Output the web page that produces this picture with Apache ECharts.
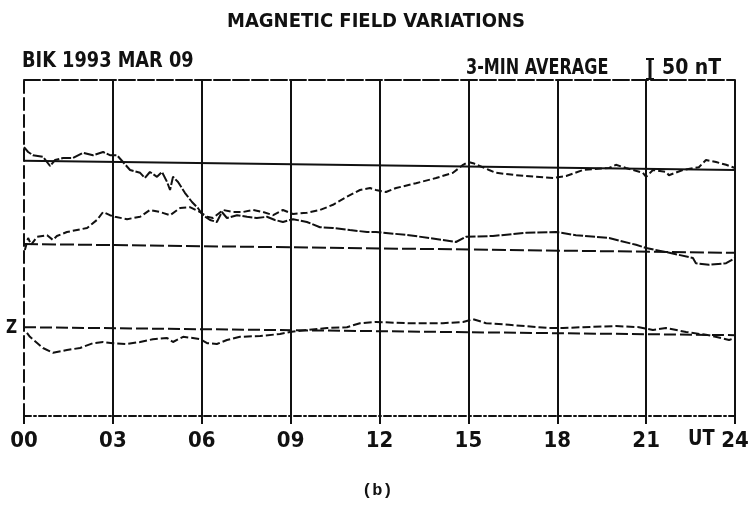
<!DOCTYPE html>
<html>
<head>
<meta charset="utf-8">
<script src="https://cdn.jsdelivr.net/npm/echarts@6/dist/echarts.min.js"></script>
<style>
  html, body { margin: 0; padding: 0; background: #fff; }
  #main { width: 752px; height: 515px; }
</style>
</head>
<body>
<div id="main"></div>
<script>
// hours (UT) and field values (nT, arbitrary offset)
var hHours = [0, 0.14, 0.3, 0.64, 0.88, 1.05, 1.32, 1.65, 1.99, 2.33, 2.67, 2.9, 3.14, 3.58, 3.92, 4.08, 4.25, 4.49, 4.66, 4.83, 4.93, 5.03, 5.2, 5.43, 5.67, 5.87, 6.04, 6.28, 6.51, 6.68, 6.85, 7.19, 7.53, 7.86, 8.2, 8.47, 8.74, 9.08, 9.55, 9.99, 10.43, 11.0, 11.58, 11.88, 13.0, 14.14, 14.58, 14.92, 15.83, 16.95, 17.96, 18.63, 19.75, 20.66, 21.0, 21.67, 22.58, 22.68, 23.12, 23.7, 24];
var hValues = [672, 660, 652, 648, 625, 640, 645, 645, 658, 652, 660, 652, 652, 615, 608, 595, 610, 598, 610, 585, 565, 598, 585, 558, 535, 520, 502, 490, 485, 510, 495, 502, 498, 495, 498, 490, 485, 492, 485, 472, 470, 465, 460, 460, 452, 440, 435, 448, 450, 458, 460, 452, 445, 428, 420, 410, 395, 382, 378, 382, 395];

var dHours = [0.03, 0.14, 0.24, 0.44, 0.78, 0.98, 1.11, 1.45, 1.79, 2.13, 2.46, 2.67, 2.9, 3.07, 3.48, 3.92, 4.25, 4.59, 4.93, 5.27, 5.6, 5.94, 6.18, 6.38, 6.72, 7.05, 7.39, 7.73, 8.07, 8.41, 8.74, 9.08, 9.55, 9.99, 10.43, 10.9, 11.34, 11.68, 11.88, 12.22, 12.56, 13.23, 13.91, 14.48, 14.82, 14.99, 15.16, 15.7, 15.93, 16.61, 17.28, 17.86, 18.3, 18.87, 19.75, 19.98, 20.32, 20.89, 21.0, 21.23, 21.67, 21.77, 22.24, 22.78, 23.02, 23.36, 23.7, 24];
var dValues = [415, 445, 428, 448, 452, 440, 450, 460, 465, 470, 490, 510, 502, 498, 492, 498, 515, 510, 502, 520, 522, 510, 498, 495, 515, 510, 510, 515, 510, 502, 515, 505, 508, 515, 528, 548, 565, 570, 565, 560, 570, 582, 595, 608, 628, 635, 632, 615, 608, 602, 598, 595, 600, 615, 620, 628, 620, 608, 598, 615, 610, 602, 615, 622, 640, 635, 628, 620];

var zHours = [0.1, 0.2, 0.64, 0.98, 1.45, 1.89, 2.33, 2.67, 3.0, 3.48, 3.92, 4.35, 4.83, 5.03, 5.37, 5.7, 5.94, 6.18, 6.51, 6.85, 7.29, 7.97, 8.64, 8.98, 9.55, 10.23, 10.9, 11.34, 11.88, 13.0, 14.14, 14.82, 15.16, 15.6, 16.37, 17.72, 18.19, 18.87, 19.98, 20.76, 21.23, 21.67, 22.35, 23.12, 23.8, 24];
var zValues = [208, 198, 170, 158, 165, 170, 182, 185, 182, 180, 185, 192, 195, 185, 198, 195, 192, 182, 180, 190, 198, 200, 205, 210, 215, 220, 222, 232, 235, 232, 232, 235, 242, 232, 228, 220, 220, 222, 225, 222, 215, 220, 210, 202, 190, 195];

// baselines at 00 and 24 UT
var baseHours = [0, 24];
var hBase = [638, 615];
var dBase = [430, 408];
var zBase = [222, 202];

var tickLabels = ['00', '03', '06', '09', '12', '15', '18', '21', '24'];

function zip(xs, ys) {
  return xs.map(function (x, i) { return [x, ys[i]]; });
}

var font = '"Liberation Sans Narrow", "DejaVu Sans Condensed", sans-serif';
var ink = '#111';

var myChart = echarts.init(document.getElementById('main'));

function trace(name, xs, ys, dash) {
  return {
    name: name, type: 'line', data: zip(xs, ys),
    showSymbol: false, silent: true,
    lineStyle: { color: ink, width: 2, type: dash }
  };
}

var option = {
  animation: false,
  backgroundColor: '#fff',
  grid: { left: 24, right: 17, top: 80, bottom: 99 },
  xAxis: [{
    type: 'value', min: 0, max: 24, interval: 3,
    axisLine: { show: true, lineStyle: { color: ink, width: 2, type: [7, 3, 2, 3] } },
    axisTick: { show: true, length: 8, lineStyle: { color: ink, width: 2 } },
    axisLabel: {
      margin: 14, color: ink, fontFamily: font, fontWeight: 'bold', fontSize: 22,
      formatter: function (v) { return tickLabels[v / 3]; }
    },
    splitLine: { show: true, showMinLine: false, lineStyle: { color: ink, width: 2 } }
  }, {
    type: 'value', min: 0, max: 24, position: 'top',
    axisLine: { show: true, lineStyle: { color: ink, width: 2, type: [16, 3] } },
    axisTick: { show: false }, axisLabel: { show: false }, splitLine: { show: false }
  }],
  yAxis: {
    type: 'value', min: 0, max: 840,
    axisLine: { show: true, lineStyle: { color: ink, width: 2, type: [12, 5] } },
    axisTick: { show: false }, axisLabel: { show: false }, splitLine: { show: false }
  },
  series: [
    trace('H base', baseHours, hBase, 'solid'),
    trace('D base', baseHours, dBase, [14, 4]),
    trace('Z base', baseHours, zBase, [12, 4]),
    trace('H', hHours, hValues, [10, 2]),
    trace('D', dHours, dValues, [7, 3]),
    trace('Z', zHours, zValues, [8, 3])
  ],
  graphic: [
    { type: 'text', left: 'center', top: 12,
      style: { text: 'MAGNETIC FIELD VARIATIONS', fill: ink, font: 'bold 20px ' + font } },
    { type: 'text', x: 22, y: 51, scaleX: 0.94,
      style: { text: 'BIK 1993 MAR 09', fill: ink, font: 'bold 21px ' + font } },
    { type: 'text', x: 466, y: 58, scaleX: 0.85,
      style: { text: '3-MIN AVERAGE', fill: ink, font: 'bold 21px ' + font } },
    { type: 'text', x: 662, y: 58,
      style: { text: '50 nT', fill: ink, font: 'bold 21px ' + font } },
    { type: 'group', x: 645, y: 58, children: [
      { type: 'line', shape: { x1: 5, y1: 0, x2: 5, y2: 22 }, style: { stroke: ink, lineWidth: 3 } },
      { type: 'line', shape: { x1: 1, y1: 1, x2: 9, y2: 1 }, style: { stroke: ink, lineWidth: 2 } },
      { type: 'line', shape: { x1: 1, y1: 21, x2: 9, y2: 21 }, style: { stroke: ink, lineWidth: 2 } }
    ] },
    { type: 'text', x: 6, y: 318, scaleX: 0.85,
      style: { text: 'Z', fill: ink, font: 'bold 20px ' + font } },
    { type: 'text', x: 688, y: 428, scaleX: 0.9,
      style: { text: 'UT', fill: ink, font: 'bold 22px ' + font } },
    { type: 'text', x: 362, y: 482,
      style: { text: '(b)', fill: ink, font: 'bold 17px "Liberation Mono", monospace' } }
  ]
};
myChart.setOption(option);
</script>
</body>
</html>
